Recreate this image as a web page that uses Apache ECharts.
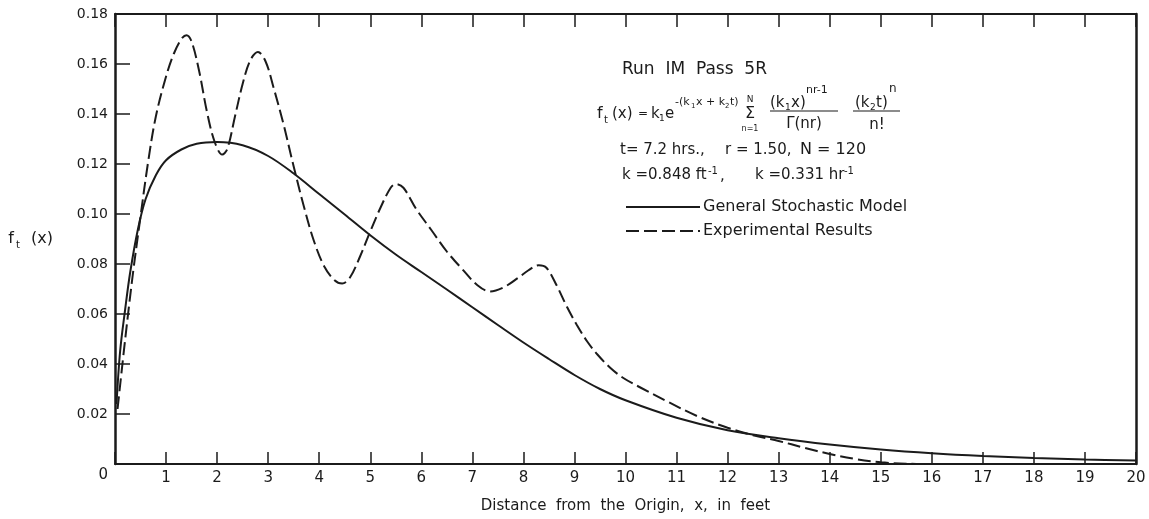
<!DOCTYPE html>
<html>
<head>
<meta charset="utf-8">
<script src="https://cdn.jsdelivr.net/npm/echarts@6/dist/echarts.min.js"></script>
<style>
  html, body { margin: 0; padding: 0; background: #fff; }
  #chart { width: 1149px; height: 519px; }
</style>
</head>
<body>
<div id="chart"></div>
<script>
// Tick labels
const xTickLabels = ['0','1','2','3','4','5','6','7','8','9','10','11','12','13','14','15','16','17','18','19','20'];
const yTickLabels = ['0','0.02','0.04','0.06','0.08','0.10','0.12','0.14','0.16','0.18'];

// General Stochastic Model: distance (ft) and f_t(x)
const modelX = [0.03, 0.1, 0.2, 0.3, 0.45, 0.6, 0.8, 1.0, 1.3, 1.6, 2.0, 2.5, 3.0, 3.5, 4.0, 4.5, 5.0, 5.5, 6.0, 6.5, 7.0, 7.5, 8.0, 8.5, 9.0, 9.5, 10, 11, 12, 13, 14, 15, 16, 17, 18, 19, 20];
const modelY = [0.024, 0.045, 0.062, 0.077, 0.094, 0.106, 0.1155, 0.1215, 0.1258, 0.1281, 0.1288, 0.1275, 0.1232, 0.1162, 0.108, 0.0998, 0.0915, 0.0838, 0.0768, 0.0698, 0.0627, 0.0556, 0.0486, 0.042, 0.0356, 0.0300, 0.0255, 0.0185, 0.0135, 0.0103, 0.0078, 0.0058, 0.0043, 0.0032, 0.0024, 0.0018, 0.0014];

// Experimental Results: distance (ft) and f_t(x)
const expX = [0.05, 0.2, 0.35, 0.5, 0.65, 0.8, 1.0, 1.15, 1.3, 1.4, 1.5, 1.65, 1.8, 1.95, 2.1, 2.2, 2.35, 2.5, 2.65, 2.8, 2.95, 3.1, 3.3, 3.5, 3.7, 3.9, 4.1, 4.3, 4.45, 4.6, 4.8, 5.0, 5.2, 5.4, 5.5, 5.65, 5.9, 6.2, 6.5, 6.8, 7.1, 7.35, 7.6, 7.9, 8.1, 8.3, 8.45, 8.65, 8.85, 9.05, 9.25, 9.45, 9.7, 9.95, 10.3, 10.8, 11.4, 12.0, 12.5, 13.0, 13.5, 14.0, 14.5, 15.0, 15.5, 16.0];
const expY = [0.022, 0.050, 0.076, 0.099, 0.121, 0.139, 0.155, 0.164, 0.170, 0.1715, 0.169, 0.157, 0.141, 0.129, 0.1238, 0.126, 0.139, 0.152, 0.1615, 0.1648, 0.161, 0.151, 0.136, 0.119, 0.103, 0.089, 0.079, 0.0735, 0.0722, 0.0745, 0.083, 0.093, 0.1025, 0.1105, 0.112, 0.1105, 0.102, 0.0935, 0.085, 0.078, 0.0715, 0.069, 0.0705, 0.0745, 0.0775, 0.0795, 0.0785, 0.0715, 0.063, 0.0555, 0.0490, 0.0438, 0.0385, 0.0345, 0.0305, 0.0252, 0.0192, 0.0145, 0.0115, 0.0092, 0.0065, 0.004, 0.002, 0.0007, 0.0001, 0.0];

const INK = '#1b1b1b';
const FONT = '"DejaVu Sans", sans-serif';

const pairs = (xs, ys) => xs.map((x, i) => [x, ys[i]]);

// Text pieces of the annotation block (formula with sub/superscripts)
function txt(x, y, text, size, align) {
  return {
    type: 'text', x: x, y: y, silent: true,
    style: {
      text: text, fill: INK, font: size + 'px ' + FONT,
      textAlign: align || 'left', textVerticalAlign: 'middle'
    }
  };
}
function bar(x1, x2, y) {
  return {
    type: 'line', silent: true,
    shape: { x1: x1, y1: y, x2: x2, y2: y },
    style: { stroke: INK, lineWidth: 1.2 }
  };
}

const annotation = [
  txt(622, 70, 'Run  IM  Pass  5R', 17),
  // f_t(x) = k1 e^{-(k1 x + k2 t)} sum_{n=1}^{N} (k1 x)^{nr-1} / Gamma(nr) * (k2 t)^n / n!
  txt(597, 114, 'f', 16),
  txt(604, 120, 't', 10),
  txt(612, 114, '(x)', 15),
  txt(643, 114, '=', 12, 'center'),
  txt(651, 114, 'k', 15),
  txt(659, 119, '1', 9),
  txt(665, 114, 'e', 15),
  txt(675, 102, '-(k', 11),
  txt(691, 106, '1', 7),
  txt(696, 102, 'x + k', 11),
  txt(725, 106, '2', 7),
  txt(730, 102, 't)', 11),
  txt(750, 100, 'N', 9, 'center'),
  txt(750, 114, '\u03A3', 16, 'center'),
  txt(750, 129, 'n=1', 8, 'center'),
  txt(770, 103, '(k', 15),
  txt(785, 108, '1', 9),
  txt(791, 103, 'x)', 15),
  txt(806, 90, 'nr-1', 11),
  bar(770, 838, 111),
  txt(804, 124, '\u0393(nr)', 15, 'center'),
  txt(855, 103, '(k', 15),
  txt(870, 108, '2', 9),
  txt(876, 103, 't)', 15),
  txt(889, 89, 'n', 12),
  bar(853, 900, 111),
  txt(877, 125, 'n!', 15, 'center'),
  // parameters
  txt(620, 150, 't= 7.2 hrs.,', 15),
  txt(725, 150, 'r = 1.50,', 15),
  txt(800, 150, 'N = 120', 16),
  txt(622, 175, 'k =0.848 ft', 15),
  txt(708, 171, '-1', 10),
  txt(720, 176, ',', 15),
  txt(755, 175, 'k =0.331 hr', 15),
  txt(844, 171, '-1', 10)
];

const chart = echarts.init(document.getElementById('chart'), null, { renderer: 'canvas' });

chart.setOption({
  backgroundColor: '#ffffff',
  animation: false,
  textStyle: { fontFamily: FONT, color: INK },
  grid: { left: 115, right: 13, top: 14, bottom: 53, containLabel: false },
  legend: {
    orient: 'vertical',
    left: 625, top: 199,
    padding: 0,
    itemWidth: 74, itemHeight: 12, itemGap: 8,
    itemStyle: { opacity: 0 },
    textStyle: { fontSize: 16, color: INK, fontFamily: FONT, padding: [0, 0, 0, -2] },
    data: ['General Stochastic Model', 'Experimental Results']
  },
  xAxis: [
    {
      type: 'value', position: 'bottom', min: 0, max: 20, interval: 1,
      name: 'Distance  from  the  Origin,  x,  in  feet',
      nameLocation: 'middle', nameGap: 35,
      nameTextStyle: { fontSize: 15, color: INK, fontFamily: FONT },
      axisLine: { show: true, onZero: false, lineStyle: { color: INK, width: 2 } },
      axisTick: { show: true, inside: true, length: 12, lineStyle: { color: INK, width: 1.5 } },
      axisLabel: {
        margin: 7, fontSize: 15, color: INK, fontFamily: FONT,
        formatter: (v) => (v === 0 ? '' : xTickLabels[Math.round(v)])
      },
      splitLine: { show: false }
    },
    {
      type: 'value', position: 'top', min: 0, max: 20, interval: 1,
      axisLine: { show: true, onZero: false, lineStyle: { color: INK, width: 2 } },
      axisTick: { show: true, inside: true, length: 13, lineStyle: { color: INK, width: 1.5 } },
      axisLabel: { show: false },
      splitLine: { show: false }
    }
  ],
  yAxis: [
    {
      type: 'value', position: 'left', min: 0, max: 0.18, interval: 0.02,
      name: '{f|f}{s|t}{f|  (x)}',
      nameLocation: 'middle', nameRotate: 0, nameGap: 62,
      nameTextStyle: {
        align: 'right',
        rich: {
          f: { fontSize: 16, lineHeight: 22, verticalAlign: 'middle', color: INK, fontFamily: FONT },
          s: { fontSize: 10, lineHeight: 22, verticalAlign: 'bottom', color: INK, fontFamily: FONT, padding: [0, 1, 0, 2] }
        }
      },
      axisLine: { show: true, onZero: false, lineStyle: { color: INK, width: 2.5 } },
      axisTick: { show: true, inside: true, length: 15, lineStyle: { color: INK, width: 1.5 } },
      axisLabel: {
        margin: 7, fontSize: 14, color: INK, fontFamily: FONT,
        formatter: (v) => {
          const i = Math.round(v / 0.02);
          return i === 0 ? '{o|' + yTickLabels[0] + '}' : yTickLabels[i];
        },
        rich: { o: { fontSize: 15, color: INK, fontFamily: FONT, padding: [23, 0, 0, 0] } }
      },
      splitLine: { show: false }
    },
    {
      type: 'value', position: 'right', min: 0, max: 0.18, interval: 0.02,
      axisLine: { show: true, onZero: false, lineStyle: { color: INK, width: 2.5 } },
      axisTick: { show: false },
      axisLabel: { show: false },
      splitLine: { show: false }
    }
  ],
  series: [
    {
      name: 'General Stochastic Model',
      type: 'line',
      xAxisIndex: 0, yAxisIndex: 0,
      data: pairs(modelX, modelY),
      smooth: 0.35,
      symbol: 'none',
      lineStyle: { color: INK, width: 2, type: 'solid' },
      itemStyle: { color: INK }
    },
    {
      name: 'Experimental Results',
      type: 'line',
      xAxisIndex: 0, yAxisIndex: 0,
      data: pairs(expX, expY),
      smooth: 0.35,
      symbol: 'none',
      lineStyle: { color: INK, width: 2, type: [13, 5] },
      itemStyle: { color: INK }
    }
  ],
  graphic: annotation
});
</script>
</body>
</html>
